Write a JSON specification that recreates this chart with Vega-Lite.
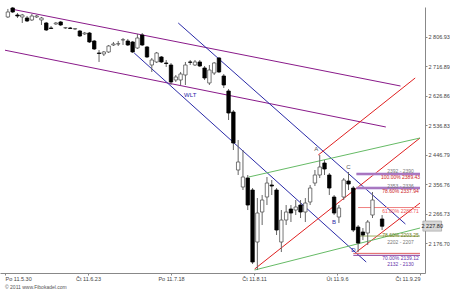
{
  "$schema": "https://vega.github.io/schema/vega-lite/v6.json",
  "width": 425,
  "height": 266,
  "autosize": "none",
  "padding": {"left": 0, "top": 7, "right": 25, "bottom": 16},
  "background": "#ffffff",
  "config": {"view": {"stroke": null}, "font": "Liberation Sans",
    "axisY": {"labelOverlap": false, "labelBound": false},
    "axisX": {"labelOverlap": false}},
  "datasets": {
    "candles": [
      {"i":0,"o":2868.2,"h":2892.7,"l":2865.1,"c":2883.5},
      {"i":1,"o":2895.7,"h":2898.8,"l":2880.4,"c":2883.5},
      {"i":2,"o":2874.3,"h":2880.4,"l":2865.1,"c":2871.2},
      {"i":3,"o":2868.2,"h":2877.4,"l":2849.8,"c":2874.3},
      {"i":4,"o":2865.1,"h":2871.2,"l":2852.9,"c":2855.9},
      {"i":5,"o":2859.0,"h":2877.4,"l":2855.9,"c":2871.2},
      {"i":6,"o":2868.2,"h":2874.3,"l":2865.1,"c":2871.2},
      {"i":7,"o":2859.0,"h":2868.2,"l":2843.7,"c":2865.1},
      {"i":8,"o":2849.8,"h":2852.9,"l":2825.3,"c":2828.4},
      {"i":9,"o":2834.5,"h":2840.6,"l":2831.5,"c":2833.0},
      {"i":10,"o":2846.8,"h":2852.9,"l":2843.7,"c":2849.8},
      {"i":11,"o":2852.9,"h":2855.9,"l":2840.6,"c":2843.7},
      {"i":12,"o":2834.5,"h":2837.6,"l":2831.5,"c":2835.5},
      {"i":13,"o":2834.5,"h":2837.6,"l":2831.5,"c":2833.0},
      {"i":14,"o":2831.5,"h":2834.5,"l":2828.4,"c":2832.5},
      {"i":15,"o":2825.3,"h":2828.4,"l":2807.0,"c":2810.0},
      {"i":16,"o":2816.2,"h":2822.3,"l":2813.1,"c":2819.2},
      {"i":17,"o":2819.2,"h":2822.3,"l":2788.6,"c":2791.7},
      {"i":18,"o":2794.7,"h":2797.8,"l":2767.2,"c":2770.3},
      {"i":19,"o":2758.0,"h":2767.2,"l":2730.5,"c":2756.5},
      {"i":20,"o":2755.0,"h":2764.1,"l":2748.8,"c":2761.1},
      {"i":21,"o":2761.1,"h":2782.5,"l":2758.0,"c":2779.4},
      {"i":22,"o":2782.5,"h":2791.7,"l":2779.4,"c":2785.6},
      {"i":23,"o":2785.6,"h":2794.7,"l":2779.4,"c":2786.5},
      {"i":24,"o":2797.8,"h":2803.9,"l":2782.5,"c":2798.8},
      {"i":25,"o":2794.7,"h":2800.9,"l":2779.4,"c":2782.5},
      {"i":26,"o":2791.7,"h":2794.7,"l":2758.0,"c":2761.1},
      {"i":27,"o":2773.3,"h":2816.2,"l":2770.3,"c":2803.9},
      {"i":28,"o":2813.1,"h":2819.2,"l":2779.4,"c":2782.5},
      {"i":29,"o":2776.4,"h":2779.4,"l":2742.7,"c":2745.8},
      {"i":30,"o":2721.3,"h":2742.7,"l":2699.9,"c":2736.6},
      {"i":31,"o":2730.5,"h":2761.1,"l":2727.4,"c":2758.0},
      {"i":32,"o":2745.8,"h":2748.8,"l":2727.4,"c":2730.5},
      {"i":33,"o":2727.4,"h":2736.6,"l":2715.2,"c":2725.9},
      {"i":34,"o":2721.3,"h":2727.4,"l":2660.1,"c":2669.3},
      {"i":35,"o":2675.4,"h":2690.7,"l":2669.3,"c":2684.6},
      {"i":36,"o":2675.4,"h":2699.9,"l":2660.1,"c":2693.8},
      {"i":37,"o":2690.7,"h":2730.5,"l":2660.1,"c":2721.3},
      {"i":38,"o":2730.5,"h":2736.6,"l":2721.3,"c":2729.5},
      {"i":39,"o":2721.3,"h":2736.6,"l":2718.2,"c":2730.5},
      {"i":40,"o":2730.5,"h":2736.6,"l":2715.2,"c":2718.2},
      {"i":41,"o":2712.1,"h":2718.2,"l":2675.4,"c":2681.5},
      {"i":42,"o":2666.2,"h":2721.3,"l":2660.1,"c":2706.0},
      {"i":43,"o":2696.8,"h":2730.5,"l":2690.7,"c":2727.4},
      {"i":44,"o":2742.7,"h":2745.8,"l":2696.8,"c":2699.9},
      {"i":45,"o":2687.6,"h":2693.8,"l":2650.9,"c":2660.1},
      {"i":46,"o":2641.7,"h":2647.9,"l":2553.0,"c":2574.4},
      {"i":47,"o":2577.5,"h":2583.6,"l":2461.2,"c":2482.6},
      {"i":48,"o":2400.0,"h":2491.8,"l":2384.7,"c":2424.5},
      {"i":49,"o":2348.0,"h":2461.2,"l":2338.8,"c":2378.6},
      {"i":50,"o":2375.5,"h":2384.7,"l":2277.6,"c":2292.9},
      {"i":51,"o":2338.8,"h":2344.9,"l":2112.4,"c":2118.5},
      {"i":52,"o":2179.7,"h":2314.3,"l":2094.0,"c":2268.4},
      {"i":53,"o":2271.5,"h":2323.5,"l":2231.7,"c":2308.2},
      {"i":54,"o":2317.4,"h":2378.6,"l":2292.9,"c":2360.2},
      {"i":55,"o":2354.1,"h":2369.4,"l":2323.5,"c":2351.0},
      {"i":56,"o":2338.8,"h":2344.9,"l":2201.1,"c":2216.4},
      {"i":57,"o":2179.7,"h":2277.6,"l":2149.1,"c":2247.0},
      {"i":58,"o":2247.0,"h":2292.9,"l":2231.7,"c":2271.5},
      {"i":59,"o":2280.7,"h":2292.9,"l":2240.9,"c":2268.4},
      {"i":60,"o":2277.6,"h":2308.2,"l":2262.3,"c":2286.8},
      {"i":61,"o":2292.9,"h":2308.2,"l":2253.1,"c":2271.5},
      {"i":62,"o":2271.5,"h":2314.3,"l":2240.9,"c":2299.0},
      {"i":63,"o":2302.1,"h":2354.1,"l":2292.9,"c":2344.9},
      {"i":64,"o":2360.2,"h":2400.0,"l":2351.0,"c":2384.7},
      {"i":65,"o":2384.7,"h":2445.9,"l":2375.5,"c":2409.2},
      {"i":66,"o":2421.4,"h":2430.6,"l":2384.7,"c":2403.1},
      {"i":67,"o":2384.7,"h":2390.8,"l":2323.5,"c":2344.9},
      {"i":68,"o":2317.4,"h":2323.5,"l":2262.3,"c":2268.4},
      {"i":69,"o":2256.2,"h":2292.9,"l":2237.8,"c":2283.7},
      {"i":70,"o":2317.4,"h":2375.5,"l":2308.2,"c":2369.4},
      {"i":71,"o":2366.3,"h":2393.9,"l":2338.8,"c":2357.2},
      {"i":72,"o":2344.9,"h":2351.0,"l":2210.3,"c":2216.4},
      {"i":73,"o":2225.6,"h":2231.7,"l":2149.1,"c":2176.6},
      {"i":74,"o":2210.3,"h":2222.5,"l":2185.8,"c":2201.1},
      {"i":75,"o":2207.2,"h":2247.0,"l":2170.5,"c":2240.9},
      {"i":76,"o":2262.3,"h":2332.7,"l":2253.1,"c":2308.2},
      {"i":78,"o":2250.1,"h":2262.3,"l":2216.4,"c":2228.0}
    ],
    "lines": [
      {"x1":0.61,"y1":2892.7,"x2":81.84,"y2":2657.0,"col":"#8a1a8a"},
      {"x1":-0.6,"y1":2766.5,"x2":78.78,"y2":2531.6,"col":"#8a1a8a"},
      {"x1":35.51,"y1":2849.8,"x2":82.86,"y2":2234.8,"col":"#2a2aa8"},
      {"x1":26.33,"y1":2758.0,"x2":74.69,"y2":2118.5,"col":"#2a2aa8"},
      {"x1":64.69,"y1":2445.9,"x2":84.9,"y2":2681.5,"col":"#e02020"},
      {"x1":51.43,"y1":2097.1,"x2":85.9,"y2":2497.9,"col":"#e02020"},
      {"x1":72.65,"y1":2149.1,"x2":85.9,"y2":2299.0,"col":"#e02020"},
      {"x1":50.2,"y1":2378.6,"x2":85.9,"y2":2497.9,"col":"#66bb66"},
      {"x1":51.43,"y1":2094.0,"x2":85.9,"y2":2222.5,"col":"#66bb66"}
    ],
    "fib": [
      {"x1":72.65,"x2":85.9,"y":2387.8,"col":"#c8b4e6","w":3},
      {"x1":72.65,"x2":85.9,"y":2387.8,"col":"#8a3a9a","w":1},
      {"x1":72.65,"x2":85.9,"y":2344.9,"col":"#c8b4e6","w":3},
      {"x1":72.65,"x2":85.9,"y":2344.9,"col":"#8a3a9a","w":1},
      {"x1":73.0,"x2":85.9,"y":2285.2,"col":"#f08080","w":1},
      {"x1":73.0,"x2":85.9,"y":2198.0,"col":"#9bb060","w":1},
      {"x1":72.0,"x2":85.9,"y":2145.0,"col":"#e06060","w":1},
      {"x1":72.0,"x2":85.9,"y":2139.0,"col":"#8a3a9a","w":1}
    ],
    "texts": [
      {"x":81.84,"y":2397.0,"t":"2392 - 2390","col":"#777777"},
      {"x":81.84,"y":2378.6,"t":"100.00% 2389.43","col":"#cc2222"},
      {"x":81.84,"y":2351.0,"t":"2353 - 2336","col":"#777777"},
      {"x":81.84,"y":2335.8,"t":"78.60% 2337.94","col":"#cc2222"},
      {"x":81.84,"y":2274.0,"t":"61.80% 2288.71","col":"#ee5555"},
      {"x":81.84,"y":2201.1,"t":"78.60% 2203.25","col":"#6b7a20"},
      {"x":81.84,"y":2179.7,"t":"2202 - 2207","col":"#777777"},
      {"x":81.84,"y":2131.0,"t":"70.00% 2139.12","col":"#6633aa"},
      {"x":81.84,"y":2112.0,"t":"2132 - 2130","col":"#6633aa"}
    ],
    "marks": [
      {"x":64.3,"y":2464.0,"t":"A","col":"#555555"},
      {"x":71.0,"y":2409.0,"t":"C","col":"#555555"},
      {"x":67.96,"y":2240.9,"t":"B","col":"#2a2aa8"},
      {"x":72.0,"y":2155.2,"t":"D","col":"#2a2aa8"},
      {"x":38.0,"y":2629.5,"t":"WLT","col":"#2a2aa8"}
    ]
  },
  "layer": [
    {
      "data": {"name": "lines"},
      "mark": {"type": "rule", "strokeWidth": 1},
      "encoding": {
        "x": {"field": "x1", "type": "quantitative", "scale": {"domain": [-0.6, 85.9], "nice": false, "zero": false},
          "axis": {"orient": "bottom", "title": null, "values": [-0.6, 16.7, 34.0, 51.3, 68.6, 85.9], "tickCount": 30, "grid": false,
            "labelExpr": "datum.value < 5 ? 'Po 11.5.30' : datum.value < 25 ? 'Čt 11.6.23' : datum.value < 42 ? 'Po 11.7.18' : datum.value < 60 ? 'Čt 11.8.11' : datum.value < 78 ? 'Út 11.9.6' : 'Čt 11.9.29'",
            "labelAlign": {"expr": "datum.value < 0 ? 'left' : datum.value > 85 ? 'right' : 'center'"},
            "labelFontSize": 5.5, "labelColor": "#444444", "labelPadding": 1,
            "domainColor": "#888888", "tickColor": "#888888", "tickSize": 2, "labelOverlap": false, "labelBound": false}},
        "x2": {"field": "x2"},
        "y": {"field": "y1", "type": "quantitative", "scale": {"domain": [2084.92, 2898.71], "nice": false, "zero": false},
          "axis": {"orient": "right", "title": null, "values": [2806.93, 2716.89, 2626.86, 2536.83, 2446.79, 2356.76, 2266.73, 2176.70], "tickCount": 30, "grid": false,
            "labelExpr": "replace(format(datum.value, ',.2f'), ',', ' ')",
            "labelFontSize": 5.5, "labelColor": "#444444", "labelPadding": 1, "labelOverlap": false,
            "domainColor": "#888888", "tickColor": "#888888", "tickSize": 2}},
        "y2": {"field": "y2"},
        "color": {"field": "col", "type": "nominal", "scale": null}
      }
    },
    {
      "data": {"name": "fib"},
      "mark": {"type": "rule"},
      "encoding": {
        "x": {"field": "x1", "type": "quantitative"},
        "x2": {"field": "x2"},
        "y": {"field": "y", "type": "quantitative"},
        "color": {"field": "col", "type": "nominal", "scale": null},
        "strokeWidth": {"field": "w", "type": "quantitative", "scale": null}
      }
    },
    {
      "data": {"name": "candles"},
      "mark": {"type": "rule", "color": "#666666", "strokeWidth": 1},
      "encoding": {
        "x": {"field": "i", "type": "quantitative"},
        "y": {"field": "l", "type": "quantitative"},
        "y2": {"field": "h"}
      }
    },
    {
      "data": {"name": "candles"},
      "mark": {"type": "bar", "width": 3.4, "strokeWidth": 0.8},
      "encoding": {
        "x": {"field": "i", "type": "quantitative"},
        "y": {"field": "o", "type": "quantitative"},
        "y2": {"field": "c"},
        "fill": {"condition": {"test": "datum.c >= datum.o", "value": "#ffffff"}, "value": "#000000"},
        "stroke": {"condition": {"test": "datum.c >= datum.o", "value": "#555555"}, "value": "#000000"}
      }
    },
    {
      "data": {"name": "texts"},
      "mark": {"type": "text", "fontSize": 5, "align": "center", "baseline": "middle"},
      "encoding": {
        "x": {"field": "x", "type": "quantitative"},
        "y": {"field": "y", "type": "quantitative"},
        "text": {"field": "t"},
        "color": {"field": "col", "type": "nominal", "scale": null}
      }
    },
    {
      "data": {"name": "marks"},
      "mark": {"type": "text", "fontSize": 6, "align": "center", "baseline": "middle"},
      "encoding": {
        "x": {"field": "x", "type": "quantitative"},
        "y": {"field": "y", "type": "quantitative"},
        "text": {"field": "t"},
        "color": {"field": "col", "type": "nominal", "scale": null}
      }
    },
    {
      "data": {"values": [{"x1": 86.5, "x2": 90.4, "y1": 2244.0, "y2": 2213.0}]},
      "mark": {"type": "rect", "fill": "#d8d8d8", "stroke": "#888888", "strokeWidth": 0.5},
      "encoding": {
        "x": {"field": "x1", "type": "quantitative"},
        "x2": {"field": "x2"},
        "y": {"field": "y1", "type": "quantitative"},
        "y2": {"field": "y2"}
      }
    },
    {
      "data": {"values": [{"x": 88.45, "y": 2228.6, "t": "2 227.80"}]},
      "mark": {"type": "text", "fontSize": 5.5, "align": "center", "baseline": "middle", "color": "#222222"},
      "encoding": {
        "x": {"field": "x", "type": "quantitative"},
        "y": {"field": "y", "type": "quantitative"},
        "text": {"field": "t"}
      }
    },
    {
      "data": {"values": [{"x": -0.6, "y": 2042.0, "t": "© 2011 www.Fibokadel.com"}]},
      "mark": {"type": "text", "fontSize": 5, "align": "left", "baseline": "middle", "color": "#555555"},
      "encoding": {
        "x": {"field": "x", "type": "quantitative"},
        "y": {"field": "y", "type": "quantitative"},
        "text": {"field": "t"}
      }
    }
  ]
}
